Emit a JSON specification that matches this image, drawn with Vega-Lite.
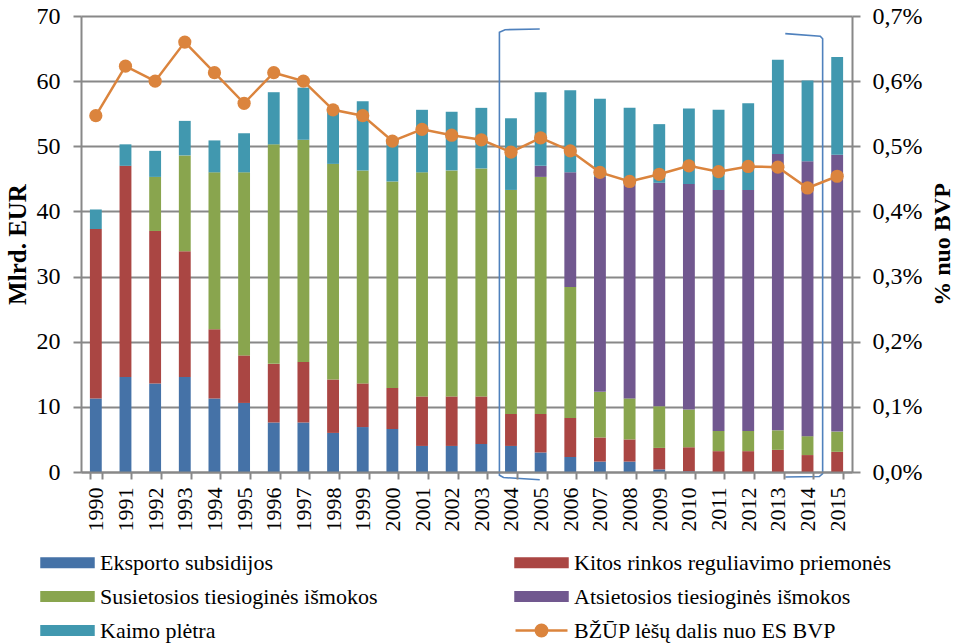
{
  "$schema": "https://vega.github.io/schema/vega-lite/v6.json",
  "autosize": {"type": "none"},
  "padding": {"left": 81, "top": 16, "right": 103, "bottom": 171},
  "width": 771,
  "height": 456,
  "background": "white",
  "config": {
    "font": "Liberation Serif, Times New Roman, serif",
    "view": {"stroke": null},
    "axis": {"labelFont": "Liberation Serif, Times New Roman, serif", "titleFont": "Liberation Serif, Times New Roman, serif", "labelColor": "#000", "titleColor": "#000", "domainColor": "#888", "tickColor": "#888", "gridColor": "#888", "domainWidth": 2, "tickWidth": 2, "gridWidth": 1.8},
    "legend": {"labelFont": "Liberation Serif, Times New Roman, serif", "labelColor": "#000"}
  },
  "datasets": {
    "bars": [
      {"year": 1990, "cat": "Eksporto subsidijos", "k": 0, "v": 11.3},
      {"year": 1990, "cat": "Kitos rinkos reguliavimo priemonės", "k": 1, "v": 26.0},
      {"year": 1990, "cat": "Kaimo plėtra", "k": 4, "v": 3.0},
      {"year": 1991, "cat": "Eksporto subsidijos", "k": 0, "v": 14.6},
      {"year": 1991, "cat": "Kitos rinkos reguliavimo priemonės", "k": 1, "v": 32.4},
      {"year": 1991, "cat": "Kaimo plėtra", "k": 4, "v": 3.3},
      {"year": 1992, "cat": "Eksporto subsidijos", "k": 0, "v": 13.6},
      {"year": 1992, "cat": "Kitos rinkos reguliavimo priemonės", "k": 1, "v": 23.4},
      {"year": 1992, "cat": "Susietosios tiesioginės išmokos", "k": 2, "v": 8.3},
      {"year": 1992, "cat": "Kaimo plėtra", "k": 4, "v": 4.0},
      {"year": 1993, "cat": "Eksporto subsidijos", "k": 0, "v": 14.6},
      {"year": 1993, "cat": "Kitos rinkos reguliavimo priemonės", "k": 1, "v": 19.3},
      {"year": 1993, "cat": "Susietosios tiesioginės išmokos", "k": 2, "v": 14.7},
      {"year": 1993, "cat": "Kaimo plėtra", "k": 4, "v": 5.3},
      {"year": 1994, "cat": "Eksporto subsidijos", "k": 0, "v": 11.3},
      {"year": 1994, "cat": "Kitos rinkos reguliavimo priemonės", "k": 1, "v": 10.6},
      {"year": 1994, "cat": "Susietosios tiesioginės išmokos", "k": 2, "v": 24.1},
      {"year": 1994, "cat": "Kaimo plėtra", "k": 4, "v": 4.9},
      {"year": 1995, "cat": "Eksporto subsidijos", "k": 0, "v": 10.6},
      {"year": 1995, "cat": "Kitos rinkos reguliavimo priemonės", "k": 1, "v": 7.3},
      {"year": 1995, "cat": "Susietosios tiesioginės išmokos", "k": 2, "v": 28.1},
      {"year": 1995, "cat": "Kaimo plėtra", "k": 4, "v": 6.0},
      {"year": 1996, "cat": "Eksporto subsidijos", "k": 0, "v": 7.6},
      {"year": 1996, "cat": "Kitos rinkos reguliavimo priemonės", "k": 1, "v": 9.0},
      {"year": 1996, "cat": "Susietosios tiesioginės išmokos", "k": 2, "v": 33.7},
      {"year": 1996, "cat": "Kaimo plėtra", "k": 4, "v": 8.0},
      {"year": 1997, "cat": "Eksporto subsidijos", "k": 0, "v": 7.6},
      {"year": 1997, "cat": "Kitos rinkos reguliavimo priemonės", "k": 1, "v": 9.3},
      {"year": 1997, "cat": "Susietosios tiesioginės išmokos", "k": 2, "v": 34.1},
      {"year": 1997, "cat": "Kaimo plėtra", "k": 4, "v": 8.0},
      {"year": 1998, "cat": "Eksporto subsidijos", "k": 0, "v": 6.0},
      {"year": 1998, "cat": "Kitos rinkos reguliavimo priemonės", "k": 1, "v": 8.2},
      {"year": 1998, "cat": "Susietosios tiesioginės išmokos", "k": 2, "v": 33.1},
      {"year": 1998, "cat": "Kaimo plėtra", "k": 4, "v": 8.2},
      {"year": 1999, "cat": "Eksporto subsidijos", "k": 0, "v": 6.9},
      {"year": 1999, "cat": "Kitos rinkos reguliavimo priemonės", "k": 1, "v": 6.7},
      {"year": 1999, "cat": "Susietosios tiesioginės išmokos", "k": 2, "v": 32.7},
      {"year": 1999, "cat": "Kaimo plėtra", "k": 4, "v": 10.6},
      {"year": 2000, "cat": "Eksporto subsidijos", "k": 0, "v": 6.6},
      {"year": 2000, "cat": "Kitos rinkos reguliavimo priemonės", "k": 1, "v": 6.3},
      {"year": 2000, "cat": "Susietosios tiesioginės išmokos", "k": 2, "v": 31.7},
      {"year": 2000, "cat": "Kaimo plėtra", "k": 4, "v": 6.3},
      {"year": 2001, "cat": "Eksporto subsidijos", "k": 0, "v": 4.0},
      {"year": 2001, "cat": "Kitos rinkos reguliavimo priemonės", "k": 1, "v": 7.6},
      {"year": 2001, "cat": "Susietosios tiesioginės išmokos", "k": 2, "v": 34.4},
      {"year": 2001, "cat": "Kaimo plėtra", "k": 4, "v": 9.6},
      {"year": 2002, "cat": "Eksporto subsidijos", "k": 0, "v": 4.0},
      {"year": 2002, "cat": "Kitos rinkos reguliavimo priemonės", "k": 1, "v": 7.6},
      {"year": 2002, "cat": "Susietosios tiesioginės išmokos", "k": 2, "v": 34.7},
      {"year": 2002, "cat": "Kaimo plėtra", "k": 4, "v": 9.0},
      {"year": 2003, "cat": "Eksporto subsidijos", "k": 0, "v": 4.3},
      {"year": 2003, "cat": "Kitos rinkos reguliavimo priemonės", "k": 1, "v": 7.3},
      {"year": 2003, "cat": "Susietosios tiesioginės išmokos", "k": 2, "v": 35.0},
      {"year": 2003, "cat": "Kaimo plėtra", "k": 4, "v": 9.3},
      {"year": 2004, "cat": "Eksporto subsidijos", "k": 0, "v": 4.0},
      {"year": 2004, "cat": "Kitos rinkos reguliavimo priemonės", "k": 1, "v": 4.9},
      {"year": 2004, "cat": "Susietosios tiesioginės išmokos", "k": 2, "v": 34.4},
      {"year": 2004, "cat": "Kaimo plėtra", "k": 4, "v": 11.0},
      {"year": 2005, "cat": "Eksporto subsidijos", "k": 0, "v": 3.0},
      {"year": 2005, "cat": "Kitos rinkos reguliavimo priemonės", "k": 1, "v": 5.9},
      {"year": 2005, "cat": "Susietosios tiesioginės išmokos", "k": 2, "v": 36.4},
      {"year": 2005, "cat": "Atsietosios tiesioginės išmokos", "k": 3, "v": 1.7},
      {"year": 2005, "cat": "Kaimo plėtra", "k": 4, "v": 11.3},
      {"year": 2006, "cat": "Eksporto subsidijos", "k": 0, "v": 2.3},
      {"year": 2006, "cat": "Kitos rinkos reguliavimo priemonės", "k": 1, "v": 6.0},
      {"year": 2006, "cat": "Susietosios tiesioginės išmokos", "k": 2, "v": 20.1},
      {"year": 2006, "cat": "Atsietosios tiesioginės išmokos", "k": 3, "v": 17.6},
      {"year": 2006, "cat": "Kaimo plėtra", "k": 4, "v": 12.6},
      {"year": 2007, "cat": "Eksporto subsidijos", "k": 0, "v": 1.6},
      {"year": 2007, "cat": "Kitos rinkos reguliavimo priemonės", "k": 1, "v": 3.7},
      {"year": 2007, "cat": "Susietosios tiesioginės išmokos", "k": 2, "v": 7.0},
      {"year": 2007, "cat": "Atsietosios tiesioginės išmokos", "k": 3, "v": 33.0},
      {"year": 2007, "cat": "Kaimo plėtra", "k": 4, "v": 12.0},
      {"year": 2008, "cat": "Eksporto subsidijos", "k": 0, "v": 1.6},
      {"year": 2008, "cat": "Kitos rinkos reguliavimo priemonės", "k": 1, "v": 3.4},
      {"year": 2008, "cat": "Susietosios tiesioginės išmokos", "k": 2, "v": 6.3},
      {"year": 2008, "cat": "Atsietosios tiesioginės išmokos", "k": 3, "v": 32.8},
      {"year": 2008, "cat": "Kaimo plėtra", "k": 4, "v": 11.8},
      {"year": 2009, "cat": "Eksporto subsidijos", "k": 0, "v": 0.4},
      {"year": 2009, "cat": "Kitos rinkos reguliavimo priemonės", "k": 1, "v": 3.3},
      {"year": 2009, "cat": "Susietosios tiesioginės išmokos", "k": 2, "v": 6.4},
      {"year": 2009, "cat": "Atsietosios tiesioginės išmokos", "k": 3, "v": 34.3},
      {"year": 2009, "cat": "Kaimo plėtra", "k": 4, "v": 9.0},
      {"year": 2010, "cat": "Eksporto subsidijos", "k": 0, "v": 0.1},
      {"year": 2010, "cat": "Kitos rinkos reguliavimo priemonės", "k": 1, "v": 3.7},
      {"year": 2010, "cat": "Susietosios tiesioginės išmokos", "k": 2, "v": 5.8},
      {"year": 2010, "cat": "Atsietosios tiesioginės išmokos", "k": 3, "v": 34.6},
      {"year": 2010, "cat": "Kaimo plėtra", "k": 4, "v": 11.6},
      {"year": 2011, "cat": "Kitos rinkos reguliavimo priemonės", "k": 1, "v": 3.2},
      {"year": 2011, "cat": "Susietosios tiesioginės išmokos", "k": 2, "v": 3.1},
      {"year": 2011, "cat": "Atsietosios tiesioginės išmokos", "k": 3, "v": 37.0},
      {"year": 2011, "cat": "Kaimo plėtra", "k": 4, "v": 12.3},
      {"year": 2012, "cat": "Kitos rinkos reguliavimo priemonės", "k": 1, "v": 3.2},
      {"year": 2012, "cat": "Susietosios tiesioginės išmokos", "k": 2, "v": 3.1},
      {"year": 2012, "cat": "Atsietosios tiesioginės išmokos", "k": 3, "v": 37.0},
      {"year": 2012, "cat": "Kaimo plėtra", "k": 4, "v": 13.3},
      {"year": 2013, "cat": "Kitos rinkos reguliavimo priemonės", "k": 1, "v": 3.4},
      {"year": 2013, "cat": "Susietosios tiesioginės išmokos", "k": 2, "v": 3.0},
      {"year": 2013, "cat": "Atsietosios tiesioginės išmokos", "k": 3, "v": 42.4},
      {"year": 2013, "cat": "Kaimo plėtra", "k": 4, "v": 14.5},
      {"year": 2014, "cat": "Kitos rinkos reguliavimo priemonės", "k": 1, "v": 2.6},
      {"year": 2014, "cat": "Susietosios tiesioginės išmokos", "k": 2, "v": 2.9},
      {"year": 2014, "cat": "Atsietosios tiesioginės išmokos", "k": 3, "v": 42.2},
      {"year": 2014, "cat": "Kaimo plėtra", "k": 4, "v": 12.4},
      {"year": 2015, "cat": "Kitos rinkos reguliavimo priemonės", "k": 1, "v": 3.1},
      {"year": 2015, "cat": "Susietosios tiesioginės išmokos", "k": 2, "v": 3.1},
      {"year": 2015, "cat": "Atsietosios tiesioginės išmokos", "k": 3, "v": 42.5},
      {"year": 2015, "cat": "Kaimo plėtra", "k": 4, "v": 15.0}
    ],
    "share": [
      {"year": 1990, "pct": 0.547}, {"year": 1991, "pct": 0.623}, {"year": 1992, "pct": 0.600},
      {"year": 1993, "pct": 0.660}, {"year": 1994, "pct": 0.613}, {"year": 1995, "pct": 0.566},
      {"year": 1996, "pct": 0.613}, {"year": 1997, "pct": 0.600}, {"year": 1998, "pct": 0.556},
      {"year": 1999, "pct": 0.547}, {"year": 2000, "pct": 0.508}, {"year": 2001, "pct": 0.526},
      {"year": 2002, "pct": 0.517}, {"year": 2003, "pct": 0.510}, {"year": 2004, "pct": 0.491},
      {"year": 2005, "pct": 0.513}, {"year": 2006, "pct": 0.493}, {"year": 2007, "pct": 0.460},
      {"year": 2008, "pct": 0.446}, {"year": 2009, "pct": 0.457}, {"year": 2010, "pct": 0.470},
      {"year": 2011, "pct": 0.461}, {"year": 2012, "pct": 0.469}, {"year": 2013, "pct": 0.468},
      {"year": 2014, "pct": 0.436}, {"year": 2015, "pct": 0.454}
    ],
    "brackets": [
      {"b": "L", "i": 0, "x": 15.47, "y": 68.0},
      {"b": "L", "i": 1, "x": 14.3, "y": 67.9},
      {"b": "L", "i": 2, "x": 14.11, "y": 67.5},
      {"b": "L", "i": 3, "x": 14.11, "y": -0.5},
      {"b": "L", "i": 4, "x": 14.25, "y": -0.85},
      {"b": "L", "i": 5, "x": 15.47, "y": -1.2},
      {"b": "R", "i": 0, "x": 23.75, "y": 67.3},
      {"b": "R", "i": 1, "x": 24.93, "y": 66.9},
      {"b": "R", "i": 2, "x": 25.01, "y": 66.5},
      {"b": "R", "i": 3, "x": 25.01, "y": -0.25},
      {"b": "R", "i": 4, "x": 24.9, "y": -0.7},
      {"b": "R", "i": 5, "x": 23.75, "y": -0.77}
    ]
  },
  "resolve": {"scale": {"x": "independent", "y": "independent"}},
  "layer": [
    {
      "data": {"name": "bars"},
      "mark": {"type": "bar"},
      "encoding": {
        "x": {"field": "year", "type": "ordinal",
          "scale": {"paddingInner": 0.6, "paddingOuter": 0.3},
          "axis": {"title": null, "labelAngle": -90, "labelFontSize": 22, "labelPadding": 8, "tickSize": 7, "tickBand": "extent", "domainWidth": 2, "zindex": 1}},
        "y": {"field": "v", "type": "quantitative", "stack": "zero",
          "scale": {"domain": [0, 70], "nice": false},
          "axis": {"orient": "left", "title": "Mlrd. EUR", "titleFontSize": 25, "titleFontWeight": "bold", "titleAngle": -90, "titleX": -64, "titleY": 228, "titleAlign": "center", "titleBaseline": "middle",
            "values": [0, 10, 20, 30, 40, 50, 60, 70], "labelFontSize": 24, "tickSize": 8, "labelPadding": 13, "grid": true}},
        "color": {"field": "cat", "type": "nominal",
          "scale": {
            "domain": ["Eksporto subsidijos", "Kitos rinkos reguliavimo priemonės", "Susietosios tiesioginės išmokos", "Atsietosios tiesioginės išmokos", "Kaimo plėtra", "BŽŪP lėšų dalis nuo ES BVP"],
            "range": ["#4572A7", "#AA4643", "#89A54E", "#71588F", "#4198AF", "#DB843D"]},
          "legend": {
            "title": null, "orient": "none", "legendX": -30, "legendY": 530, "direction": "horizontal",
            "columns": 2, "columnPadding": 132, "rowPadding": 6,
            "labelFontSize": 22, "labelOffset": 16, "symbolSize": 900, "labelLimit": 500,
            "encode": {"symbols": {"update": {
              "shape": {"signal": "datum.value === 'BŽŪP lėšų dalis nuo ES BVP' ? 'M-1.733,0H1.733M0.38,0A0.38,0.38 0 1,1 -0.38,0A0.38,0.38 0 1,1 0.38,0Z' : 'M-1.733,-0.277H1.733V0.277H-1.733Z'"},
              "fill": {"scale": "color", "field": "value"},
              "stroke": {"signal": "datum.value === 'BŽŪP lėšų dalis nuo ES BVP' ? '#DB843D' : 'transparent'"},
              "strokeWidth": {"value": 2.5},
              "opacity": {"value": 1}
            }}}
          }},
        "order": {"field": "k", "type": "quantitative", "sort": "ascending"}
      }
    },
    {
      "data": {"name": "brackets"},
      "mark": {"type": "line", "color": "#4F81BD", "strokeWidth": 1.6, "clip": false},
      "encoding": {
        "x": {"field": "x", "type": "quantitative", "scale": {"domain": [0, 26], "nice": false, "zero": false}, "axis": null},
        "y": {"field": "y", "type": "quantitative", "scale": {"domain": [0, 70], "nice": false, "zero": false, "clamp": false}, "axis": null},
        "detail": {"field": "b", "type": "nominal"},
        "order": {"field": "i", "type": "quantitative"}
      }
    },
    {
      "data": {"name": "share"},
      "encoding": {
        "x": {"field": "year", "type": "ordinal", "scale": {"paddingInner": 0.6, "paddingOuter": 0.3}, "axis": null},
        "y": {"field": "pct", "type": "quantitative",
          "scale": {"domain": [0, 0.7], "nice": false},
          "axis": {"orient": "right", "title": "% nuo BVP", "titleFontSize": 24, "titleFontWeight": "bold", "titleAngle": -90, "titleX": 90, "titleY": 228, "titleAlign": "center", "titleBaseline": "middle",
            "values": [0, 0.1, 0.2, 0.3, 0.4, 0.5, 0.6, 0.7], "labelExpr": "replace(format(datum.value, '.1f'), '.', ',') + '%'",
            "labelFontSize": 24, "tickSize": 8, "labelPadding": 12, "grid": false}},
        "color": {"datum": "BŽŪP lėšų dalis nuo ES BVP", "type": "nominal"}
      },
      "layer": [
        {"mark": {"type": "line", "strokeWidth": 2.5}},
        {"mark": {"type": "circle", "size": 175, "opacity": 1}}
      ]
    }
  ]
}
